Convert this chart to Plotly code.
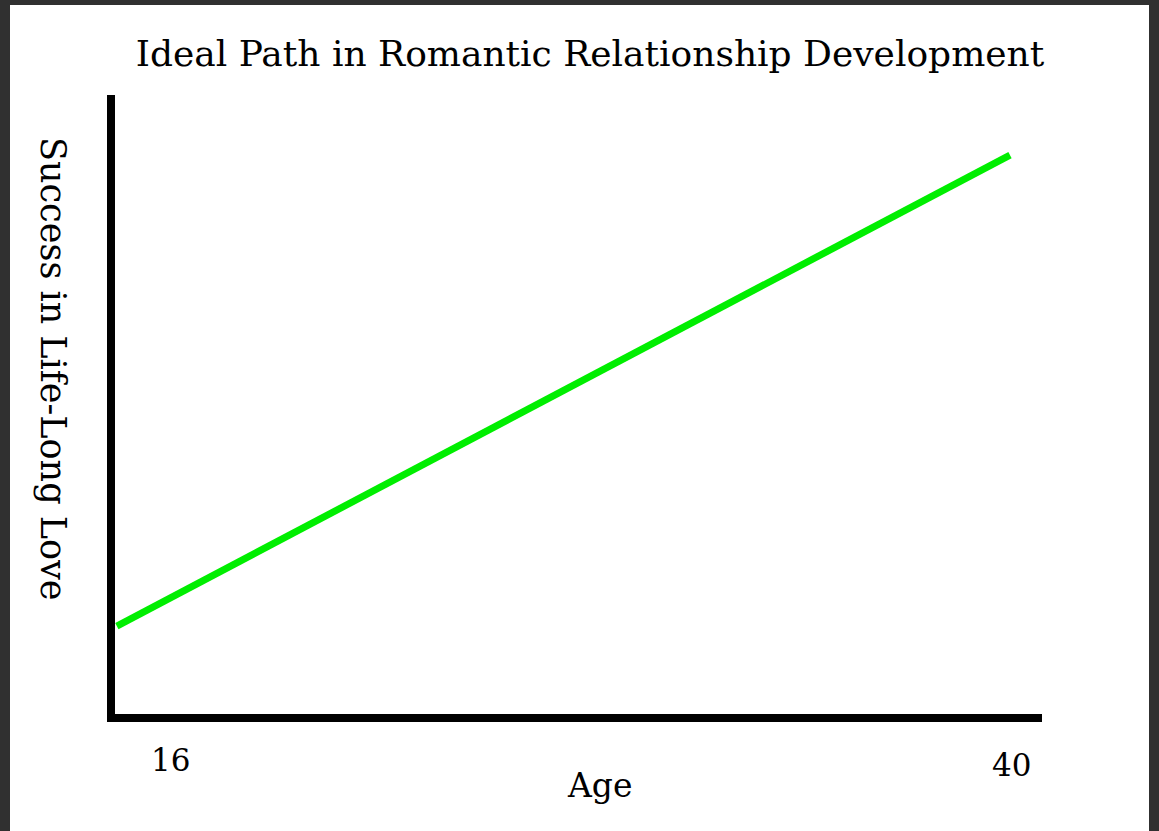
import plotly.graph_objects as go

# data
ages = [16, 40]
success = [1.42, 9.03]
tick_labels = ["16", "40"]

W, H = 1159, 831
L, R, T, B = 115, 117, 95, 117
pw = W - L - R
ph = H - T - B

serif = "DejaVu Serif, Georgia, serif"


def px_x(px):
    return (px - L) / pw


def px_y(py):
    return (T + ph - py) / ph


fig = go.Figure()

fig.add_trace(go.Scatter(
    x=ages,
    y=success,
    mode="lines",
    line=dict(color="#00ee00", width=7),
    hoverinfo="skip",
    showlegend=False,
))

# dark window frame around white page
fig.add_shape(type="rect", xref="paper", yref="paper", layer="below",
              x0=px_x(10), x1=px_x(1149), y0=px_y(836), y1=px_y(5),
              fillcolor="white", line=dict(width=0))

# tick labels set under the axis
for lbl, px, py in zip(tick_labels, [170, 1011], [760, 765]):
    fig.add_annotation(x=px_x(px), y=px_y(py), xanchor="center", yanchor="middle",
                       xref="paper", yref="paper", text=lbl, showarrow=False,
                       font=dict(family=serif, size=31, color="black"))

fig.add_annotation(x=px_x(600), y=px_y(785), xanchor="center", yanchor="middle",
                   xref="paper", yref="paper", text="Age", showarrow=False,
                   font=dict(family=serif, size=33, color="black"))

fig.add_annotation(x=px_x(53), y=px_y(368), xanchor="center", yanchor="middle",
                   xref="paper", yref="paper", text="Success in Life-Long Love",
                   textangle=90, showarrow=False,
                   font=dict(family=serif, size=35, color="black"))

fig.update_layout(
    width=W, height=H,
    margin=dict(l=L, r=R, t=T, b=B),
    paper_bgcolor="#303030",
    plot_bgcolor="rgba(0,0,0,0)",
    title=dict(text="Ideal Path in Romantic Relationship Development",
               x=(590 / W), xanchor="center", y=1 - 53 / H, yanchor="middle",
               font=dict(family=serif, size=36, color="black")),
    xaxis=dict(range=[15.95, 40.86], showgrid=False, zeroline=False,
               showticklabels=False, ticks="",
               showline=True, linecolor="black", linewidth=8),
    yaxis=dict(range=[0, 10], showgrid=False, zeroline=False,
               showticklabels=False, ticks="",
               showline=True, linecolor="black", linewidth=8),
)

fig.write_html("out.html", config={"displayModeBar": False},
               post_script="document.body.style.margin='0';")
